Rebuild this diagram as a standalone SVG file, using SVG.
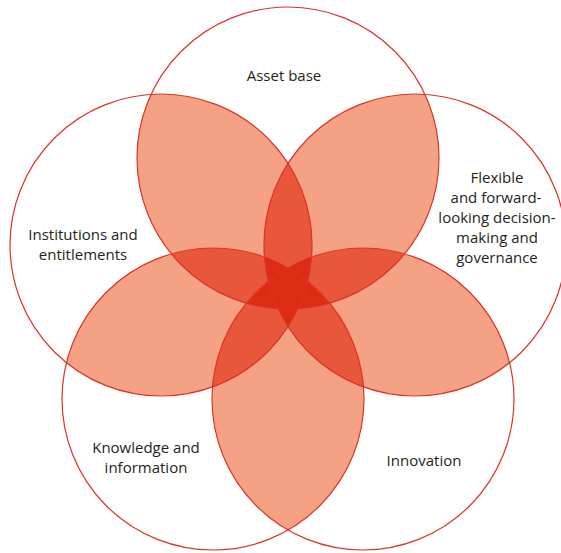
<svg xmlns="http://www.w3.org/2000/svg" xmlns:xlink="http://www.w3.org/1999/xlink" width="561" height="553" viewBox="0 0 561 553">
  <style>
    .edge { fill: none; stroke: #dc3328; stroke-width: 1.2; }
    .lvl2 { fill: #f4a283; }
    .lvl3 { fill: #e8573a; }
    .lvl4 { fill: #de2c12; }
    .lbl { font-family: "Open Sans", "Noto Sans", "DejaVu Sans", sans-serif; font-size: 15px; fill: #231f20; text-anchor: middle; }
  </style>
  <defs>
    <circle id="cirT" cx="288" cy="158" r="151"/>
    <circle id="cirL" cx="161" cy="245" r="151"/>
    <circle id="cirR" cx="415" cy="245" r="151"/>
    <circle id="cirBL" cx="213" cy="399" r="151"/>
    <circle id="cirBR" cx="363" cy="399" r="151"/>
    <clipPath id="kT"><circle cx="288" cy="158" r="151"/></clipPath>
    <clipPath id="kL"><circle cx="161" cy="245" r="151"/></clipPath>
    <clipPath id="kR"><circle cx="415" cy="245" r="151"/></clipPath>
    <clipPath id="kBL"><circle cx="213" cy="399" r="151"/></clipPath>
    <clipPath id="kBR"><circle cx="363" cy="399" r="151"/></clipPath>
  </defs>
  <rect width="561" height="553" fill="#ffffff"/>
  <g id="overlaps">
    <g class="lvl2">
      <g clip-path="url(#kT)"><use href="#cirL"/><use href="#cirR"/><use href="#cirBL"/><use href="#cirBR"/></g>
      <g clip-path="url(#kL)"><use href="#cirR"/><use href="#cirBL"/><use href="#cirBR"/></g>
      <g clip-path="url(#kR)"><use href="#cirBL"/><use href="#cirBR"/></g>
      <g clip-path="url(#kBL)"><use href="#cirBR"/></g>
    </g>
    <g class="lvl3">
      <g clip-path="url(#kT)">
        <g clip-path="url(#kL)"><use href="#cirR"/><use href="#cirBL"/><use href="#cirBR"/></g>
        <g clip-path="url(#kR)"><use href="#cirBL"/><use href="#cirBR"/></g>
        <g clip-path="url(#kBL)"><use href="#cirBR"/></g>
      </g>
      <g clip-path="url(#kL)">
        <g clip-path="url(#kR)"><use href="#cirBL"/><use href="#cirBR"/></g>
        <g clip-path="url(#kBL)"><use href="#cirBR"/></g>
      </g>
      <g clip-path="url(#kR)">
        <g clip-path="url(#kBL)"><use href="#cirBR"/></g>
      </g>
    </g>
    <g class="lvl4">
      <g clip-path="url(#kT)">
        <g clip-path="url(#kL)">
          <g clip-path="url(#kR)"><use href="#cirBL"/><use href="#cirBR"/></g>
          <g clip-path="url(#kBL)"><use href="#cirBR"/></g>
        </g>
        <g clip-path="url(#kR)">
          <g clip-path="url(#kBL)"><use href="#cirBR"/></g>
        </g>
      </g>
      <g clip-path="url(#kL)">
        <g clip-path="url(#kR)">
          <g clip-path="url(#kBL)"><use href="#cirBR"/></g>
        </g>
      </g>
    </g>
  </g>
  <g id="node-asset-base">
    <use href="#cirT" class="edge"/>
    <text class="lbl" x="284" y="81">Asset base</text>
  </g>
  <g id="node-institutions">
    <use href="#cirL" class="edge"/>
    <text class="lbl" x="83" y="240">Institutions and</text>
    <text class="lbl" x="83" y="260">entitlements</text>
  </g>
  <g id="node-flexible">
    <use href="#cirR" class="edge"/>
    <text class="lbl" x="497" y="183">Flexible</text>
    <text class="lbl" x="496" y="203">and forward-</text>
    <text class="lbl" x="497" y="223">looking decision-</text>
    <text class="lbl" x="497" y="243">making and</text>
    <text class="lbl" x="497" y="263">governance</text>
  </g>
  <g id="node-knowledge">
    <use href="#cirBL" class="edge"/>
    <text class="lbl" x="146" y="453">Knowledge and</text>
    <text class="lbl" x="146" y="473">information</text>
  </g>
  <g id="node-innovation">
    <use href="#cirBR" class="edge"/>
    <text class="lbl" x="424" y="466">Innovation</text>
  </g>
</svg>
